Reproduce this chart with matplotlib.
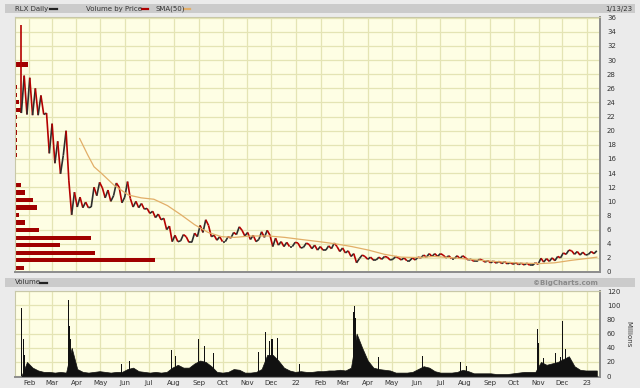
import matplotlib
matplotlib.use("Agg")
import matplotlib.pyplot as plt
import matplotlib.dates as mdates
import matplotlib.transforms as mtransforms
from matplotlib.collections import LineCollection
from matplotlib.lines import Line2D
from matplotlib.patches import Rectangle
import numpy as np
import pandas as pd

# RLX weekly price range (week ending Friday)
week_high = [35.0, 27.8, 27.5, 26.0, 25.0, 22.5, 21.0, 18.5, 20.0, 12.9,
             11.3, 10.6, 9.9, 12.0, 12.7, 11.9, 11.6, 12.6, 12.0, 12.8,
             10.4, 10.0, 9.7, 9.0, 8.6, 8.2, 7.6, 6.5, 5.2, 5.3,
             5.0, 5.5, 6.6, 7.4, 6.6, 5.2, 5.0, 5.0, 5.6, 6.4,
             5.9, 5.6, 5.2, 5.7, 5.9, 5.2, 4.8, 4.3, 4.2, 4.2,
             4.1, 4.1, 3.9, 3.8, 3.6, 3.7, 4.1, 3.6, 3.4, 3.0,
             2.6, 2.4, 2.2, 2.1, 2.1, 2.2, 2.1, 2.2, 2.0, 2.0,
             2.0, 2.1, 2.4, 2.6, 2.6, 2.6, 2.4, 2.3, 2.3, 2.3,
             2.0, 1.8, 1.8, 1.7, 1.6, 1.55, 1.5, 1.45, 1.35, 1.3,
             1.25, 1.25, 1.3, 1.95, 1.9, 2.0, 2.2, 2.7, 3.1, 3.0,
             2.9, 2.8, 2.9, 3.0]
week_low = [22.5, 22.3, 22.2, 22.2, 22.3, 16.8, 15.4, 13.9, 16.5, 8.1,
            9.2, 9.1, 9.1, 9.2, 10.8, 10.5, 10.0, 10.8, 9.8, 10.6,
            9.2, 9.1, 8.9, 8.3, 7.7, 7.4, 6.0, 4.3, 4.3, 4.4,
            4.2, 4.2, 5.0, 5.6, 5.0, 4.5, 4.3, 4.3, 4.8, 5.3,
            5.1, 4.6, 4.3, 4.6, 4.9, 3.6, 3.8, 3.6, 3.6, 3.6,
            3.4, 3.5, 3.3, 3.1, 3.1, 3.1, 3.3, 2.9, 2.7, 2.2,
            1.3, 1.9, 1.8, 1.7, 1.7, 1.8, 1.7, 1.8, 1.7, 1.6,
            1.6, 1.7, 2.0, 2.1, 2.2, 2.2, 2.0, 1.9, 1.9, 1.9,
            1.7, 1.5, 1.5, 1.4, 1.3, 1.25, 1.2, 1.15, 1.1, 1.05,
            1.0, 0.95, 0.95, 1.1, 1.4, 1.5, 1.6, 2.0, 2.5, 2.5,
            2.4, 2.4, 2.5, 2.6]

# typical daily volume per week (millions)
week_volume = [0, 20, 12, 8, 6, 6, 5, 6, 5, 40,
               10, 6, 5, 6, 7, 6, 5, 6, 6, 10,
               12, 7, 6, 5, 6, 5, 6, 12, 16, 12,
               12, 18, 22, 20, 14, 6, 5, 6, 10, 9,
               5, 5, 6, 10, 30, 30, 22, 12, 8, 6,
               7, 6, 6, 7, 7, 8, 8, 9, 8, 12,
               60, 40, 22, 12, 10, 9, 8, 5, 5, 5,
               6, 10, 14, 12, 7, 5, 5, 5, 6, 9,
               7, 4, 4, 4, 4, 3, 3, 3, 4, 5,
               6, 6, 6, 20, 16, 18, 20, 24, 28, 14,
               9, 8, 8, 8]

# single-day volume spikes (millions)
spike_dates = ["2021-01-22", "2021-01-25", "2021-01-26", "2021-03-22", "2021-03-23",
               "2021-03-24", "2021-05-27", "2021-06-07", "2021-07-29", "2021-08-03",
               "2021-09-01", "2021-09-08", "2021-09-20", "2021-11-15", "2021-11-24",
               "2021-11-29", "2021-12-02", "2021-12-09", "2022-01-06", "2022-03-14",
               "2022-03-15", "2022-03-16", "2022-04-14", "2022-06-09", "2022-07-26",
               "2022-08-03", "2022-10-31", "2022-11-01", "2022-11-07", "2022-11-22",
               "2022-11-29", "2022-12-01", "2022-12-05"]
spike_volume = [96, 53, 30, 107, 70, 52, 17, 21, 37, 29,
                52, 42, 33, 34, 62, 49, 52, 54, 17, 91,
                99, 82, 27, 29, 20, 15, 67, 47, 26, 32,
                27, 78, 38]

# 50-day simple moving average
sma_dates = ["2021-04-05", "2021-04-15", "2021-04-23", "2021-05-02", "2021-05-18",
             "2021-06-05", "2021-06-21", "2021-07-07", "2021-07-24", "2021-08-10",
             "2021-08-27", "2021-09-13", "2021-09-30", "2021-10-16", "2021-11-06",
             "2021-11-28", "2021-12-18", "2022-01-08", "2022-01-30", "2022-02-19",
             "2022-03-12", "2022-04-02", "2022-04-22", "2022-05-13", "2022-06-03",
             "2022-06-23", "2022-07-18", "2022-08-30", "2022-10-10", "2022-11-04",
             "2022-11-21", "2022-12-12", "2023-01-03", "2023-01-13"]
sma_values = [18.9, 16.6, 14.9, 14.0, 12.3, 10.9, 10.5, 10.3, 9.4, 8.1,
              6.7, 5.6, 5.0, 4.9, 5.1, 5.1, 4.9, 4.6, 4.3, 4.0,
              3.6, 3.1, 2.5, 2.1, 2.05, 2.2, 2.0, 1.55, 1.25, 1.2,
              1.3, 1.65, 1.95, 2.1]

# volume by price
vbp_price = [0.6, 1.67, 2.73, 3.8, 4.86, 5.93, 7.0, 8.06, 9.13, 10.2,
             11.26, 12.33, 15.5, 16.56, 17.63, 18.7, 19.76, 20.83, 21.9, 22.96,
             24.03, 25.1, 26.16, 29.36]
vbp_volume = [9, 140, 80, 45, 76, 24, 10, 4, 22, 18,
              10, 6, 1, 1.5, 2, 2, 2, 2, 2, 6,
              4, 1.5, 1.5, 13]

month_labels = ["Feb", "Mar", "Apr", "May", "Jun", "Jul", "Aug", "Sep", "Oct", "Nov", "Dec", "22",
                "Feb", "Mar", "Apr", "May", "Jun", "Jul", "Aug", "Sep", "Oct", "Nov", "Dec", "23"]

weeks = pd.date_range("2021-01-22", periods=len(week_high), freq="7D")
months = pd.date_range("2021-02-01", periods=len(month_labels), freq="MS")

W, H = 640, 388
BG = "#fefee4"
GRID = "#e4e4b4"
TXT = "#333333"
UP, DOWN = "#2e2e2e", "#b40000"
FS = 5


def fbox(x0, y0, x1, y1):
    return [x0 / W, 1 - y1 / H, (x1 - x0) / W, (y1 - y0) / H]


fig = plt.figure(figsize=(6.4, 3.88), dpi=100, facecolor="#ebebeb")
plt.rcParams["font.family"] = ["DejaVu Sans"]

# header bands
for y0, y1 in [(4, 13), (278, 287)]:
    fig.patches.append(Rectangle((5 / W, 1 - y1 / H), 630 / W, (y1 - y0) / H,
                                 transform=fig.transFigure, facecolor="#cbcbcb",
                                 edgecolor="none", zorder=0))

ax = fig.add_axes(fbox(15, 17, 600, 272), facecolor=BG)
axv = fig.add_axes(fbox(15, 291, 600, 377), facecolor=BG)

xmin, xmax = pd.Timestamp("2021-01-14"), pd.Timestamp("2023-01-17")

# price: each week traced low->high (up week) or high->low (down week);
# rising strokes black, falling strokes red
hi = np.array(week_high)
lo = np.array(week_low)
mid = (hi + lo) / 2
up = np.r_[False, mid[1:] >= mid[:-1]]
wx = mdates.date2num(weeks)
x_start = np.maximum(wx - 3.5, wx[0])
px = np.column_stack([x_start, wx]).ravel()
py = np.column_stack([np.where(up, lo, hi), np.where(up, hi, lo)]).ravel()
pts = np.column_stack([px, py])
segs = np.stack([pts[:-1], pts[1:]], axis=1)
rising = segs[:, 1, 1] >= segs[:, 0, 1]
ax.add_collection(LineCollection(segs, colors=np.where(rising, UP, DOWN),
                                 linewidths=1.2, zorder=3))

# volume by price
trans = mtransforms.blended_transform_factory(ax.transAxes, ax.transData)
vbp = np.array(vbp_volume) / max(vbp_volume) * 0.24
ax.barh(vbp_price, vbp, height=0.6, left=0, color="#a00000", transform=trans, zorder=2)

ax.plot(pd.to_datetime(sma_dates), sma_values, color="#e2ae68", lw=0.9, zorder=4)

# volume panel
axv.fill_between(weeks, 0, week_volume, color="#111111", lw=0.5, zorder=3)
axv.bar(pd.to_datetime(spike_dates), spike_volume, width=1.3, color="#111111", zorder=3)

for a in (ax, axv):
    a.set_xlim(xmin, xmax)
    a.set_xticks(months)
    a.grid(True, color=GRID, lw=0.9, zorder=0)
    a.set_axisbelow(True)
    a.yaxis.tick_right()
    a.tick_params(axis="both", length=0, labelsize=FS, labelcolor=TXT, pad=5)
    for s in ("top", "left"):
        a.spines[s].set_color("#c8c8a8")
        a.spines[s].set_linewidth(0.8)
    for s in ("right", "bottom"):
        a.spines[s].set_color("#8c8c8c")
        a.spines[s].set_linewidth(1.4)

ax.set_ylim(0, 36.1)
ax.set_yticks(np.arange(0, 37, 2))
ax.set_xticklabels([])

axv.set_ylim(-1.2, 120)
axv.set_yticks(np.arange(0, 121, 20))
axv.set_xticklabels(month_labels)
axv.tick_params(axis="x", pad=2)

# header texts
fig.text(15 / W, 1 - 8.5 / H, "RLX Daily", fontsize=FS, color=TXT, va="center")
fig.text(86 / W, 1 - 8.5 / H, "Volume by Price", fontsize=FS, color=TXT, va="center")
fig.text(156 / W, 1 - 8.5 / H, "SMA(50)", fontsize=FS, color=TXT, va="center")
fig.text(632 / W, 1 - 8.5 / H, "1/13/23", fontsize=FS, color=TXT, va="center", ha="right")
fig.text(15 / W, 1 - 282.5 / H, "Volume", fontsize=FS, color=TXT, va="center")
fig.text(598 / W, 1 - 282.5 / H, "\u00a9BigCharts.com", fontsize=FS, color="#8a8a8a",
         va="center", ha="right", fontweight="bold")
fig.text(628 / W, 1 - 334 / H, "Millions", fontsize=FS, color=TXT, va="center",
         ha="center", rotation=270)

for x0, x1, y, c in [(50, 57, 8.5, "#222222"), (142, 148, 8.5, "#b00000"),
                     (184, 190, 8.5, "#e2ae68"), (40, 47, 282.5, "#222222")]:
    fig.add_artist(Line2D([x0 / W, x1 / W], [1 - y / H, 1 - y / H], color=c, lw=1.6,
                          transform=fig.transFigure))

fig.savefig("out.png", dpi=100, facecolor=fig.get_facecolor())
